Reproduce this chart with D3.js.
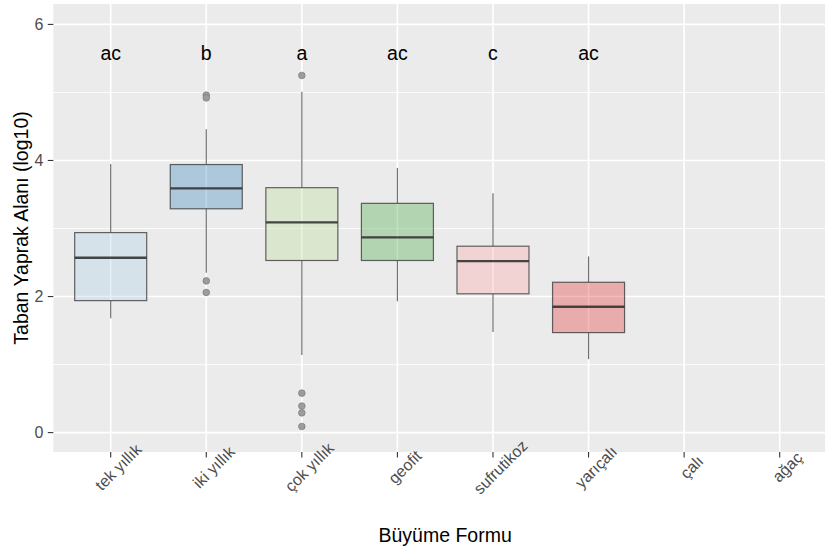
<!DOCTYPE html>
<html>
<head>
<meta charset="utf-8">
<script src="https://cdn.jsdelivr.net/npm/d3@7"></script>
<style>
  body { margin: 0; background: #ffffff; }
  svg { display: block; font-family: "Liberation Sans", Arial, sans-serif; }
</style>
</head>
<body>
<div id="chart"></div>
<script>
// categories (Büyüme Formu)
var categories = ["tek yıllık", "iki yıllık", "çok yıllık", "geofit", "sufrutikoz", "yarıçalı", "çalı", "ağaç"];
// box statistics (null = no data)
var lowerWhisker = [1.68, 2.35, 1.14, 1.93, 1.48, 1.08, null, null];
var q1Values     = [1.94, 3.29, 2.53, 2.53, 2.04, 1.47, null, null];
var medians      = [2.57, 3.59, 3.09, 2.87, 2.52, 1.85, null, null];
var q3Values     = [2.94, 3.94, 3.60, 3.37, 2.74, 2.21, null, null];
var upperWhisker = [3.95, 4.46, 5.01, 3.89, 3.52, 2.59, null, null];
var outliers     = [[], [4.96, 4.92, 2.23, 2.06], [5.25, 0.58, 0.39, 0.29, 0.09], [], [], [], [], []];
// significance letters
var letters      = ["ac", "b", "a", "ac", "c", "ac", "", ""];
var letterY      = 5.5;
var fillColors   = ["#A6CEE3", "#1F78B4", "#B2DF8A", "#33A02C", "#FB9A99", "#E31A1C", "#FDBF6F", "#FF7F00"];
var yTicks       = [0, 2, 4, 6];
var yMinor       = [1, 3, 5];

var width = 825, height = 555;
var panel = {left: 53.3, right: 837, top: 4, bottom: 452};

var svg = d3.select("#chart").append("svg").attr("width", width).attr("height", height);

var x = d3.scalePoint().domain(categories).range([110.7, 779.7]);
var y = d3.scaleLinear().domain([-0.285, 6.3]).range([panel.bottom, panel.top]);
var boxW = 72;

// panel background
svg.append("rect")
	.attr("x", panel.left).attr("y", panel.top)
	.attr("width", panel.right - panel.left).attr("height", panel.bottom - panel.top)
	.attr("fill", "#EBEBEB");

var grid = svg.append("g");
grid.selectAll(".minor").data(yMinor).enter().append("line")
	.attr("x1", panel.left).attr("x2", panel.right)
	.attr("y1", function(d){ return y(d); }).attr("y2", function(d){ return y(d); })
	.attr("stroke", "#ffffff").attr("stroke-width", 0.8);
grid.selectAll(".major").data(yTicks).enter().append("line")
	.attr("x1", panel.left).attr("x2", panel.right)
	.attr("y1", function(d){ return y(d); }).attr("y2", function(d){ return y(d); })
	.attr("stroke", "#ffffff").attr("stroke-width", 1.6);
grid.selectAll(".vmajor").data(categories).enter().append("line")
	.attr("y1", panel.top).attr("y2", panel.bottom)
	.attr("x1", function(d){ return x(d); }).attr("x2", function(d){ return x(d); })
	.attr("stroke", "#ffffff").attr("stroke-width", 1.6);

// boxes
var boxes = categories.map(function(c, i){
	return {cat: c, lo: lowerWhisker[i], q1: q1Values[i], med: medians[i], q3: q3Values[i], hi: upperWhisker[i], out: outliers[i], fill: fillColors[i]};
});
var bg = svg.append("g");
boxes.forEach(function(b){
	if(b.med === null) return;
	var cx = x(b.cat);
	var g = bg.append("g");
	g.append("line").attr("x1", cx).attr("x2", cx).attr("y1", y(b.q3)).attr("y2", y(b.hi))
		.attr("stroke", "#333333").attr("stroke-opacity", 0.7).attr("stroke-width", 1.2);
	g.append("line").attr("x1", cx).attr("x2", cx).attr("y1", y(b.q1)).attr("y2", y(b.lo))
		.attr("stroke", "#333333").attr("stroke-opacity", 0.7).attr("stroke-width", 1.2);
	g.append("rect")
		.attr("x", cx - boxW/2).attr("width", boxW)
		.attr("y", y(b.q3)).attr("height", y(b.q1) - y(b.q3))
		.attr("fill", b.fill).attr("fill-opacity", 0.3)
		.attr("stroke", "#333333").attr("stroke-opacity", 0.75).attr("stroke-width", 1.2);
	g.append("line").attr("x1", cx - boxW/2).attr("x2", cx + boxW/2).attr("y1", y(b.med)).attr("y2", y(b.med))
		.attr("stroke", "#333333").attr("stroke-opacity", 0.9).attr("stroke-width", 2.4);
	g.selectAll("circle").data(b.out).enter().append("circle")
		.attr("cx", cx).attr("cy", function(d){ return y(d); }).attr("r", 3.3)
		.attr("fill", "#9c9c9c").attr("stroke", "#808080").attr("stroke-width", 0.8);
});

// letters
svg.append("g").selectAll("text").data(categories).enter().append("text")
	.attr("x", function(d){ return x(d); })
	.attr("y", y(letterY) + 1.5)
	.attr("text-anchor", "middle")
	.attr("font-size", "19.5px").attr("fill", "#000000")
	.text(function(d, i){ return letters[i]; });

// y axis
var ya = svg.append("g");
ya.selectAll("line").data(yTicks).enter().append("line")
	.attr("x1", panel.left - 5.5).attr("x2", panel.left)
	.attr("y1", function(d){ return y(d); }).attr("y2", function(d){ return y(d); })
	.attr("stroke", "#333333").attr("stroke-width", 1.1);
ya.selectAll("text").data(yTicks).enter().append("text")
	.attr("x", 43.5).attr("y", function(d){ return y(d); })
	.attr("dy", "0.36em").attr("text-anchor", "end")
	.attr("font-size", "16px").attr("fill", "#4D4D4D")
	.text(function(d){ return d; });

// x axis
var xa = svg.append("g");
xa.selectAll("line").data(categories).enter().append("line")
	.attr("x1", function(d){ return x(d); }).attr("x2", function(d){ return x(d); })
	.attr("y1", panel.bottom).attr("y2", panel.bottom + 5.5)
	.attr("stroke", "#333333").attr("stroke-width", 1.1);
xa.selectAll("text").data(categories).enter().append("text")
	.attr("transform", function(d){ return "translate(" + (x(d) + 7.5) + "," + 467 + ") rotate(-45)"; })
	.attr("text-anchor", "middle").attr("dy", "0.35em")
	.attr("font-size", "16px").attr("fill", "#4D4D4D")
	.text(function(d){ return d; });

// axis titles
svg.append("text")
	.attr("x", (panel.left + panel.right) / 2).attr("y", 542)
	.attr("text-anchor", "middle").attr("font-size", "19.5px").attr("fill", "#000000")
	.text("Büyüme Formu");
svg.append("text")
	.attr("transform", "translate(28," + ((panel.top + panel.bottom) / 2) + ") rotate(-90)")
	.attr("text-anchor", "middle").attr("font-size", "19.5px").attr("fill", "#000000")
	.text("Taban Yaprak Alanı (log10)");
</script>
</body>
</html>
